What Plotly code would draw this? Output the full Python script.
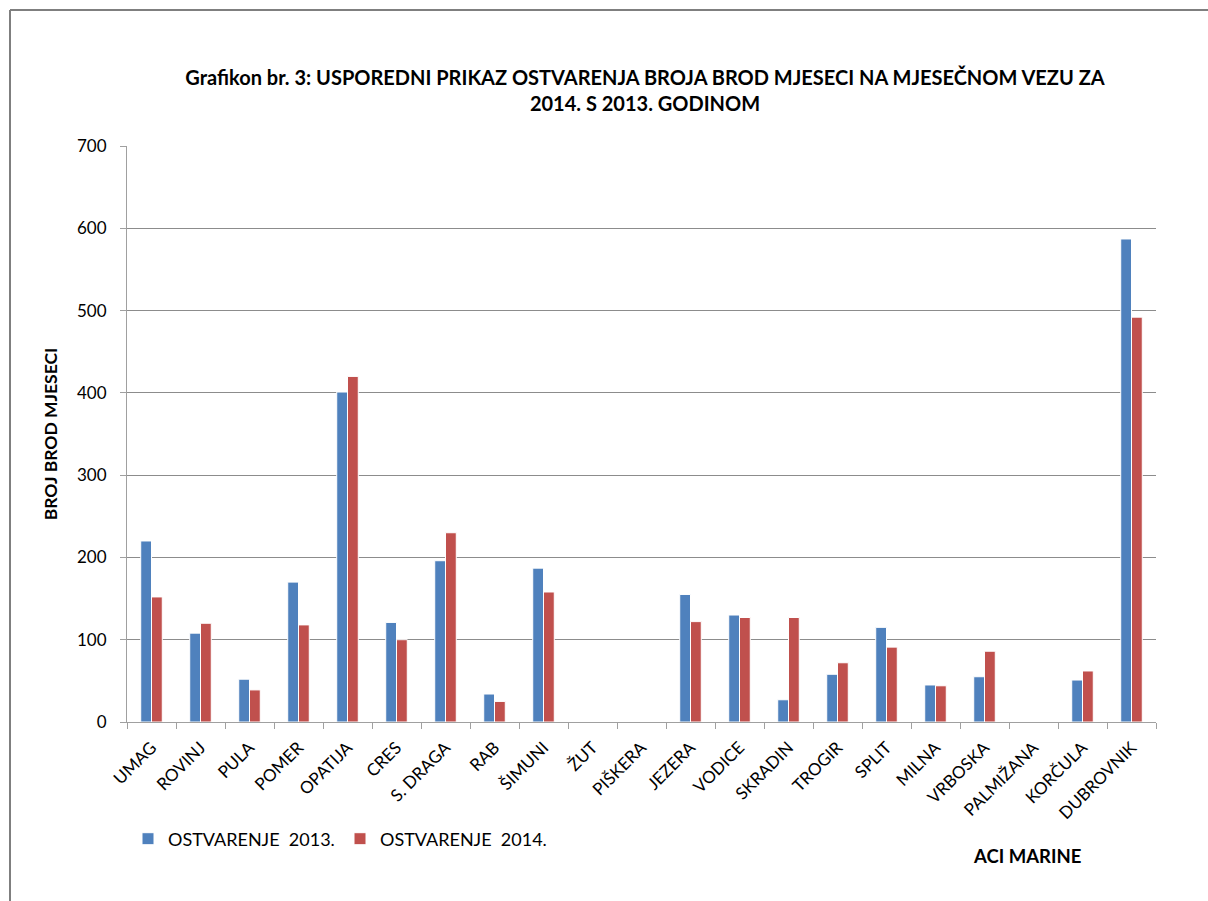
import plotly.graph_objects as go

categories = ["UMAG", "ROVINJ", "PULA", "POMER", "OPATIJA", "CRES", "S. DRAGA", "RAB",
              "ŠIMUNI", "ŽUT", "PIŠKERA", "JEZERA", "VODICE", "SKRADIN", "TROGIR",
              "SPLIT", "MILNA", "VRBOSKA", "PALMIŽANA", "KORČULA", "DUBROVNIK"]
ostv_2013 = [220, 108, 52, 170, 401, 121, 196, 34, 187, None, None, 155, 130, 27, 58,
             115, 45, 55, None, 51, 587]
ostv_2014 = [152, 120, 39, 118, 420, 100, 230, 25, 158, None, None, 122, 127, 127, 72,
             91, 44, 86, None, 62, 492]
y_ticks = [0, 100, 200, 300, 400, 500, 600, 700]

W, H = 1208, 901
L, R, T, B = 127, 1156, 146, 722

def px(x):
    return (x - L) / (R - L)

def py(y):
    return (B - y) / (B - T)

FONT = "Lato"

fig = go.Figure()
fig.add_trace(go.Bar(x=categories, y=ostv_2013, name="OSTVARENJE  2013.",
                     marker=dict(color="#4F81BD", line=dict(color="white", width=1))))
fig.add_trace(go.Bar(x=categories, y=ostv_2014, name="OSTVARENJE  2014.",
                     marker=dict(color="#C0504D", line=dict(color="white", width=1))))

fig.update_layout(
    width=W, height=H,
    margin=dict(l=L, r=W - R, t=T, b=H - B, autoexpand=False),
    paper_bgcolor="white", plot_bgcolor="white",
    barmode="group", bargap=0.56, bargroupgap=0.0,
    font=dict(family=FONT, size=17, color="#000000"),
    title=dict(text="<b>Grafikon br. 3: USPOREDNI PRIKAZ OSTVARENJA BROJA BROD MJESECI NA MJESEČNOM VEZU ZA<br>2014. S 2013. GODINOM</b>",
               x=645 / W, xanchor="center", xref="container",
               y=1 - 85 / H, yanchor="middle", yref="container",
               font=dict(family=FONT, size=20, color="#000000")),
    showlegend=True,
    legend=dict(orientation="h", x=px(128), xanchor="left", y=py(839), yanchor="middle",
                font=dict(family=FONT, size=18, color="#000000"),
                itemwidth=30, entrywidth=167, entrywidthmode="pixels",
                traceorder="normal", bgcolor="rgba(0,0,0,0)"),
    xaxis=dict(type="category", tickangle=-45, tickson="boundaries",
               ticks="outside", ticklen=6, tickcolor="#A0A0A0",
               showline=True, linecolor="#A0A0A0", linewidth=1,
               ticklabelstandoff=8,
               showgrid=False, tickfont=dict(family=FONT, size=17, color="#000000")),
    yaxis=dict(range=[0, 700], tickvals=y_ticks, ticks="outside", ticklen=6,
               tickcolor="#A0A0A0", showline=True, linecolor="#A0A0A0", linewidth=1,
               ticklabelstandoff=10,
               showgrid=True, gridcolor="#8C8C8C", gridwidth=1, zeroline=False,
               tickfont=dict(family=FONT, size=17, color="#000000"),
               title=dict(text="<b>BROJ BROD MJESECI</b>", standoff=14,
                          font=dict(family=FONT, size=17.5, color="#000000"))),
    annotations=[dict(text="<b>ACI MARINE</b>", x=px(1027), y=py(856), xref="paper", yref="paper",
                      showarrow=False, xanchor="center", yanchor="middle",
                      font=dict(family=FONT, size=18.5, color="#000000"))],
    shapes=[
        dict(type="line", xref="paper", yref="paper", x0=px(10), x1=px(10), y0=py(901), y1=py(10),
             line=dict(color="#7F7F7F", width=2), layer="below"),
        dict(type="line", xref="paper", yref="paper", x0=px(10), x1=px(1208), y0=py(10), y1=py(10),
             line=dict(color="#7F7F7F", width=2), layer="below"),
    ],
)

fig.write_html("out.html", config={"displayModeBar": False},
               post_script="document.body.style.margin='0';document.body.style.overflow='hidden';")
